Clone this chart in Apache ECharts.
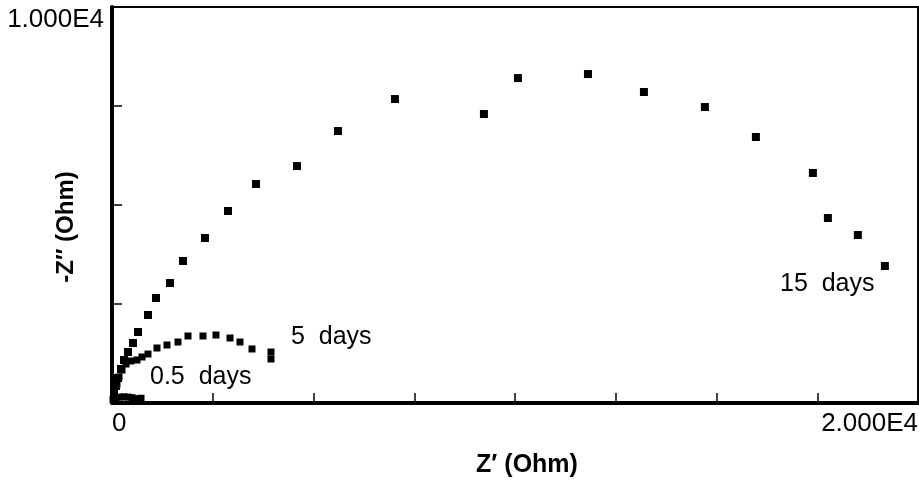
<!DOCTYPE html>
<html>
<head>
<meta charset="utf-8">
<script src="https://cdn.jsdelivr.net/npm/echarts@6/dist/echarts.min.js"></script>
<style>html,body{margin:0;padding:0;background:#fff;}#c{width:919px;height:484px;}</style>
</head>
<body>
<div id="c"></div>
<script>
// Z' (Ohm), -Z'' (Ohm) pairs
var days15 = [
  [50,253],[99,429],[149,631],[223,858],[298,1086],[397,1288],[521,1515],[645,1793],
  [893,2222],[1092,2651],[1439,3030],[1762,3586],[2307,4166],[2878,4848],[3573,5530],
  [4590,5984],[5607,6868],[7021,7676],[9229,7297],[10073,8206],[11810,8307],[13199,7853],
  [14712,7474],[15978,6717],[17392,5808],[17764,4671],[18508,4242],[19178,3459]
];
var days5 = [
  [50,278],[124,480],[174,657],[248,833],[347,985],[471,1061],[620,1086],[744,1162],
  [893,1237],[1116,1389],[1365,1465],[1637,1540],[1886,1692],[2258,1692],[2580,1717],
  [2928,1641],[3176,1540],[3474,1364],[3945,1288],[3945,1111]
];
var days05 = [
  [25,90],[99,130],[198,150],[298,155],[397,150],[496,135],[595,110],[720,120]
];
var xTickLabels = {0:'0', 20000:'2.000E4'};
var yTickLabels = {10000:'1.000E4'};
var seriesNames = ['15 days','5 days','0.5 days'];

var FONT = "'Liberation Sans', Arial, Helvetica, sans-serif";
var chart = echarts.init(document.getElementById('c'));
chart.setOption({
  backgroundColor:'#fff',
  animation:false,
  grid:{left:112, right:1, top:7, bottom:81, outerBoundsMode:'none', containLabel:false,
        show:true, borderColor:'#000', borderWidth:2, backgroundColor:'transparent'},
  xAxis:{
    type:'value', min:0, max:20000, interval:2500,
    name:"Z\u2032 (Ohm)", nameLocation:'middle', nameGap:50, nameMoveOverlap:false,
    nameTextStyle:{fontFamily:FONT, fontSize:25, fontWeight:'bold', color:'#000', padding:[0,0,0,24]},
    axisLine:{show:true, lineStyle:{color:'#000', width:4}},
    axisTick:{show:true, inside:true, length:10, lineStyle:{color:'#000', width:1.5}},
    splitLine:{show:false},
    axisLabel:{fontFamily:FONT, fontSize:26, color:'#000', margin:8, showMinLabel:true, showMaxLabel:true,
      alignMinLabel:'left', alignMaxLabel:'right',
      formatter:function(v){return xTickLabels[v]!==undefined?xTickLabels[v]:'';}}
  },
  yAxis:{
    type:'value', min:0, max:10000, interval:2500,
    name:"-Z\u2033 (Ohm)", nameLocation:'middle', nameGap:34, nameRotate:90, nameMoveOverlap:false,
    nameTextStyle:{fontFamily:FONT, fontSize:24, fontWeight:'bold', color:'#000', padding:[0,44,0,0]},
    axisLine:{show:true, lineStyle:{color:'#000', width:4}},
    axisTick:{show:true, inside:true, length:10, lineStyle:{color:'#000', width:1.5}},
    splitLine:{show:false},
    axisLabel:{fontFamily:FONT, fontSize:26, color:'#000', margin:8, showMaxLabel:true,
      verticalAlignMaxLabel:'top',
      formatter:function(v){return yTickLabels[v]!==undefined?yTickLabels[v]:'';}}
  },
  series:[
    {name:seriesNames[0], type:'scatter', symbol:'rect', symbolSize:8, data:days15, itemStyle:{color:'#000', opacity:1}},
    {name:seriesNames[1], type:'scatter', symbol:'rect', symbolSize:7, data:days5, itemStyle:{color:'#000', opacity:1}},
    {name:seriesNames[2], type:'scatter', symbol:'rect', symbolSize:7, data:days05, itemStyle:{color:'#000', opacity:1}}
  ],
  graphic:[
    {type:'text', left:780, top:272, style:{text:'15  days', font:'25px '+FONT, fill:'#000'}},
    {type:'text', left:291, top:325, style:{text:'5  days', font:'25px '+FONT, fill:'#000'}},
    {type:'text', left:150, top:365, style:{text:'0.5  days', font:'25px '+FONT, fill:'#000'}}
  ]
});
</script>
</body>
</html>
